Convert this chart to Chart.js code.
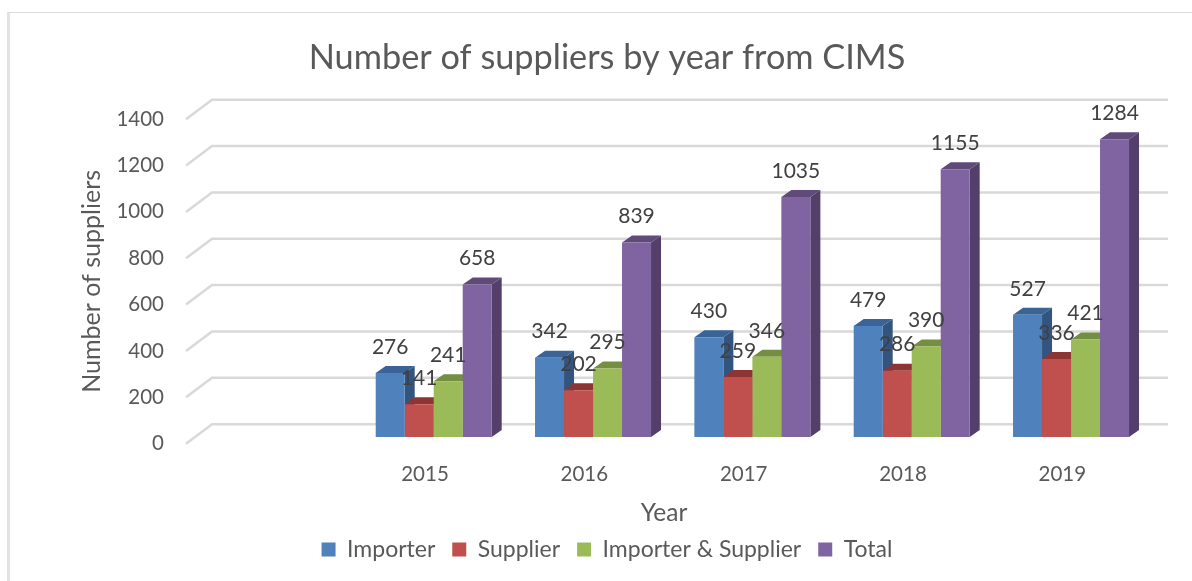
<!DOCTYPE html>
<html>
<head>
<meta charset="utf-8">
<script src="https://cdn.jsdelivr.net/npm/chart.js@4"></script>
<style>
    html, body { margin: 0; padding: 0; background: #fff; overflow: hidden; }
    #wrap { position: relative; width: 1192px; height: 581px; }
    #frame { position: absolute; left: 7px; top: 12px; right: 0; bottom: 0; border-left: 3px solid #e3e3e3; border-top: 1px solid #dcdcdc; }
    canvas { position: absolute; left: 0; top: 0; }
</style>
</head>
<body>
<div id="wrap">
    <div id="frame"></div>
    <canvas id="barChart" width="1192" height="581"></canvas>
</div>
<script>
// first category is empty in the source chart
const years = ['', '2015', '2016', '2017', '2018', '2019'];
const importer = [null, 276, 342, 430, 479, 527];
const supplier = [null, 141, 202, 259, 286, 336];
const both = [null, 241, 295, 346, 390, 421];
const total = [null, 658, 839, 1035, 1155, 1284];

const seriesNames = ['Importer', 'Supplier', 'Importer & Supplier', 'Total'];
const frontColors = ['#4F81BD', '#C0504D', '#9BBB59', '#8064A2'];
const sideColors = ['#33547F', '#8C3836', '#6F8840', '#533F69'];
const topColors = ['#3A6496', '#8E3533', '#748E42', '#5F4A7A'];

const fontName = 'Lato, sans-serif';
const axisGrey = '#595959';

// how far the bars sit behind the front axis plane
const barShiftX = 8.7;
const barShiftY = -6.7;
// depth of one bar
const barDepthX = 10;
const barDepthY = -7;
// depth of the side wall / back wall gridlines
const wallX = 26;
const wallY = -19.5;

const fake3d = {
    id: 'fake3d',
    beforeDatasetsDraw(chart) {
        const { ctx, scales } = chart;
        // gridlines: short slanted part on the side wall, long part on the back wall
        ctx.save();
        ctx.strokeStyle = '#d9d9d9';
        ctx.lineWidth = 2.5;
        scales.y.ticks.forEach(t => {
            const y = scales.y.getPixelForValue(t.value);
            ctx.beginPath();
            ctx.moveTo(scales.x.left, y);
            ctx.lineTo(scales.x.left + wallX, y + wallY);
            ctx.lineTo(scales.x.right + wallX, y + wallY);
            ctx.stroke();
        });
        ctx.restore();

        // move all bars back, then paint side and top faces before the library paints the fronts
        ctx.save();
        ctx.translate(barShiftX, barShiftY);
        chart.data.datasets.forEach((ds, i) => {
            chart.getDatasetMeta(i).data.forEach((bar, j) => {
                if (ds.data[j] === null) return;
                const half = bar.width / 2;
                const l = bar.x - half, r = bar.x + half;
                ctx.fillStyle = sideColors[i];
                ctx.beginPath();
                ctx.moveTo(r, bar.y);
                ctx.lineTo(r + barDepthX, bar.y + barDepthY);
                ctx.lineTo(r + barDepthX, bar.base + barDepthY);
                ctx.lineTo(r, bar.base);
                ctx.closePath();
                ctx.fill();
                ctx.fillStyle = topColors[i];
                ctx.beginPath();
                ctx.moveTo(l, bar.y);
                ctx.lineTo(l + barDepthX, bar.y + barDepthY);
                ctx.lineTo(r + barDepthX, bar.y + barDepthY);
                ctx.lineTo(r, bar.y);
                ctx.closePath();
                ctx.fill();
            });
        });
    },
    afterDatasetsDraw(chart) {
        const { ctx } = chart;
        ctx.fillStyle = '#404040';
        ctx.font = '21px ' + fontName;
        ctx.textAlign = 'center';
        ctx.textBaseline = 'middle';
        chart.data.datasets.forEach((ds, i) => {
            chart.getDatasetMeta(i).data.forEach((bar, j) => {
                if (ds.data[j] === null) return;
                ctx.fillText(ds.data[j], bar.x, bar.y - 26);
            });
        });
        ctx.restore();
    }
};

const seriesValues = [importer, supplier, both, total];

new Chart(document.getElementById('barChart').getContext('2d'), {
    type: 'bar',
    data: {
        labels: years,
        datasets: seriesNames.map((name, i) => ({
            label: name,
            data: seriesValues[i],
            backgroundColor: frontColors[i],
            borderWidth: 0,
            categoryPercentage: 0.728,
            barPercentage: 1
        }))
    },
    plugins: [fake3d],
    options: {
        responsive: false,
        animation: false,
        layout: { padding: { left: 72, right: 50, top: 0, bottom: 10 } },
        scales: {
            x: {
                grid: { display: false, drawTicks: false },
                border: { display: false },
                ticks: { color: axisGrey, font: { family: fontName, size: 20.5 }, padding: 18 },
                title: {
                    display: true, text: 'Year', color: axisGrey,
                    font: { family: fontName, size: 24.5 }, padding: { top: 0, bottom: -7 }
                },
                afterFit(scale) { scale.height = 77.3; }
            },
            y: {
                min: 0,
                max: 1400,
                grid: { display: false, drawTicks: false },
                border: { display: false },
                ticks: {
                    stepSize: 200,
                    color: axisGrey,
                    font: { family: fontName, size: 20.5 },
                    padding: 22,
                    callback: v => String(v)
                },
                title: {
                    display: true, text: 'Number of suppliers', color: axisGrey,
                    font: { family: fontName, size: 25 }, padding: { top: 5, bottom: 0 }
                },
                afterFit(scale) { scale.width = 114; }
            }
        },
        plugins: {
            title: {
                display: true,
                text: 'Number of suppliers by year from CIMS',
                color: axisGrey,
                font: { family: fontName, size: 34.3, weight: 'normal' },
                padding: { top: 37.5, bottom: 40.5 }
            },
            legend: {
                position: 'bottom',
                labels: {
                    color: axisGrey,
                    font: { family: fontName, size: 23 },
                    boxWidth: 14,
                    boxHeight: 14,
                    padding: 17
                }
            },
            tooltip: { enabled: false }
        }
    }
});
</script>
</body>
</html>
